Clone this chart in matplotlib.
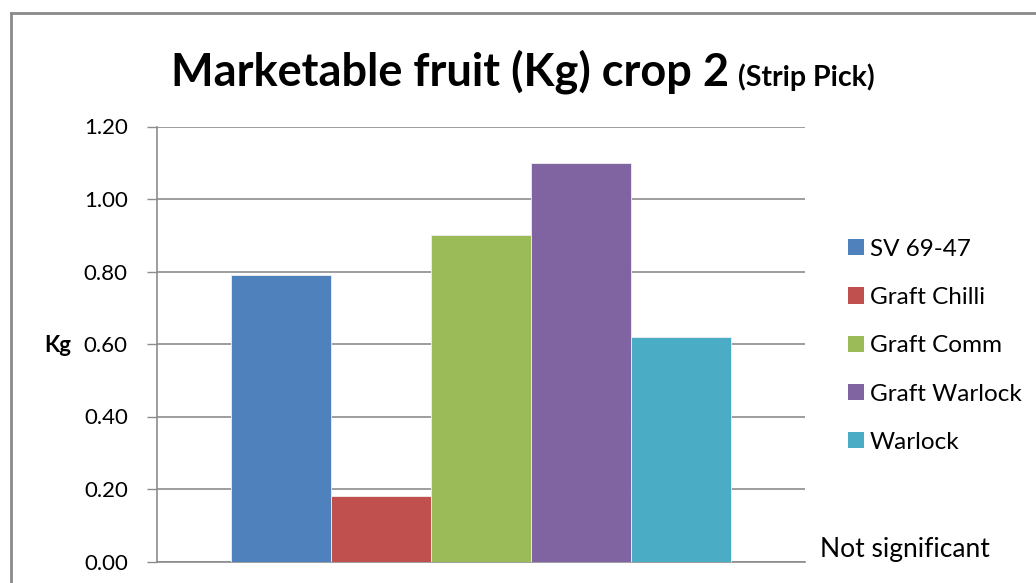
import matplotlib
matplotlib.use('Agg')
import matplotlib.pyplot as plt
from matplotlib.lines import Line2D
from matplotlib.patches import Patch

# data
varieties = ['SV 69-47', 'Graft Chilli', 'Graft Comm', 'Graft Warlock', 'Warlock']
kg = [0.79, 0.18, 0.90, 1.10, 0.62]
colors = ['#4F81BD', '#C0504D', '#9BBB59', '#8064A2', '#4BACC6']
yticks = [0.0, 0.2, 0.4, 0.6, 0.8, 1.0, 1.2]

plt.rcParams['font.family'] = ['Lato', 'DejaVu Sans']

W, H = 1036, 583
fig = plt.figure(figsize=(W / 100, H / 100), dpi=100)
ax = fig.add_axes([157 / W, 1 - 561.5 / H, (805 - 157) / W, (561.5 - 126.5) / H])

positions = [i - 2 for i in range(len(varieties))]
ax.bar(positions, kg, width=1.0, color=colors, edgecolor='#f0f0f0', linewidth=0.6, zorder=3)

ax.set_xlim(-3.24, 3.24)
ax.set_ylim(0, 1.2)
ax.set_yticks(yticks)
ax.set_yticklabels([f'{v:.2f}' for v in yticks], fontsize=16)
ax.set_xticks([])
ax.yaxis.grid(True, color='#8c8c8c', linewidth=1.2, zorder=0)
ax.tick_params(axis='y', direction='out', length=7, width=1, color='#8c8c8c', pad=14)
for side in ['top', 'right']:
    ax.spines[side].set_visible(False)
for side in ['left', 'bottom']:
    ax.spines[side].set_color('#8c8c8c')
    ax.spines[side].set_linewidth(1.2)

fig.text(71 / W, 1 - 346 / H, 'Kg', fontsize=16, fontweight='bold', ha='right', va='center')

# title in two parts
fig.text(729 / W, 1 - 86 / H, 'Marketable fruit (Kg) crop 2', fontsize=32.5,
         fontweight='bold', ha='right', va='baseline')
fig.text(738 / W, 1 - 86 / H, '(Strip Pick)', fontsize=20.5,
         fontweight='bold', ha='left', va='baseline')

handles = [Patch(facecolor=c, edgecolor='none') for c in colors]
fig.legend(handles, varieties, loc='upper left', bbox_to_anchor=(826 / W, 1 - 217 / H),
           frameon=False, fontsize=17.5, handlelength=0.65, handleheight=0.65,
           handletextpad=0.25, labelspacing=1.12)

fig.text(820 / W, 1 - 549 / H, 'Not significant', fontsize=19, ha='left', va='center')

# chart border (cut off on the right and bottom)
fig.add_artist(Line2D([11 / W, 11 / W], [0, 1 - 13 / H], transform=fig.transFigure,
                      color='#8a8a8a', linewidth=2))
fig.add_artist(Line2D([11 / W, 1], [1 - 13 / H, 1 - 13 / H], transform=fig.transFigure,
                      color='#8a8a8a', linewidth=2))

fig.savefig('out.png', dpi=100)
